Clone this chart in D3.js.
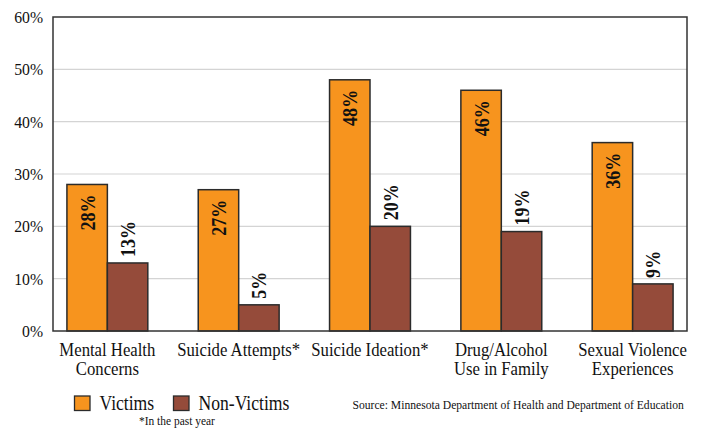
<!DOCTYPE html>
<html>
<head>
<meta charset="utf-8">
<script src="https://cdn.jsdelivr.net/npm/d3@7"></script>
<style>
  html, body { margin: 0; padding: 0; background: #fff; }
  svg { display: block; }
</style>
</head>
<body>
<svg id="chart" width="703" height="430"></svg>
<script>
// Categories (second line of each label after "|")
const categories = [
  "Mental Health|Concerns",
  "Suicide Attempts*",
  "Suicide Ideation*",
  "Drug/Alcohol|Use in Family",
  "Sexual Violence|Experiences"
];
const seriesNames = ["Victims", "Non-Victims"];
const victims    = [28, 27, 48, 46, 36];
const nonVictims = [13, 5, 20, 19, 9];
const yTicks = [0, 10, 20, 30, 40, 50, 60];
const footnote = "*In the past year";
const source = "Source: Minnesota Department of Health and Department of Education";

const colors = { "Victims": "#F7941E", "Non-Victims": "#954B3A" };
const serif = "'Liberation Serif', 'Times New Roman', serif";
const squeeze = 0.88;   // narrow the serif face

const svg = d3.select("#chart");
const plot = { left: 53, right: 687, top: 17, bottom: 331 };

const x = d3.scaleBand().domain(categories).range([plot.left, plot.right])
  .paddingInner(0.384).paddingOuter(0.106);
const xs = d3.scaleBand().domain(seriesNames).range([0, x.bandwidth()]);
const y = d3.scaleLinear().domain([0, 60]).range([plot.bottom, plot.top]);

// condensed text helper
function label(g, str, px, py, opts) {
  const o = Object.assign({ size: 19, anchor: "middle", weight: "normal", sx: squeeze, rot: 0 }, opts);
  return g.append("text")
    .attr("transform", `translate(${px},${py}) rotate(${o.rot}) scale(${o.sx},1)`)
    .attr("text-anchor", o.anchor)
    .attr("font-family", serif)
    .attr("font-size", o.size)
    .attr("font-weight", o.weight)
    .attr("fill", "#111")
    .text(str);
}

// gridlines
svg.append("g").selectAll("line").data(yTicks.filter(t => t > 0 && t < 60)).join("line")
  .attr("x1", plot.left).attr("x2", plot.right)
  .attr("y1", d => y(d)).attr("y2", d => y(d))
  .attr("stroke", "#d4d4d4").attr("stroke-width", 1.2);

// y axis labels
const yg = svg.append("g");
yTicks.forEach(t => label(yg, t + "%", 43, y(t) + 6, { size: 17.5, anchor: "end", sx: 0.9 }));

// bars
const rows = categories.map((c, i) => ({ c, vals: [
  { s: "Victims", v: victims[i] }, { s: "Non-Victims", v: nonVictims[i] }
]}));

const groups = svg.append("g").selectAll("g").data(rows).join("g")
  .attr("transform", d => `translate(${x(d.c)},0)`);

groups.selectAll("rect").data(d => d.vals).join("rect")
  .attr("x", d => xs(d.s))
  .attr("y", d => y(d.v))
  .attr("width", xs.bandwidth())
  .attr("height", d => y(0) - y(d.v))
  .attr("fill", d => colors[d.s])
  .attr("stroke", "#2b2b2b").attr("stroke-width", 1.5);

// value labels, rotated
groups.each(function(d) {
  const g = d3.select(this);
  const vb = d.vals[0], nb = d.vals[1];
  const cxV = xs("Victims") + xs.bandwidth() / 2;
  const cxN = xs("Non-Victims") + xs.bandwidth() / 2;
  label(g, vb.v + "%", cxV + 7.5, y(vb.v) + 10, { size: 21, weight: "bold", anchor: "end", rot: -90, sx: 0.86 });
  label(g, nb.v + "%", cxN + 7.5, y(nb.v) - 6, { size: 21, weight: "bold", anchor: "start", rot: -90, sx: 0.86 });
});

// frame
svg.append("rect").attr("x", plot.left).attr("y", plot.top)
  .attr("width", plot.right - plot.left).attr("height", plot.bottom - plot.top)
  .attr("fill", "none").attr("stroke", "#333").attr("stroke-width", 1.5);

// category labels
const xg = svg.append("g");
categories.forEach(c => {
  const cx = x(c) + x.bandwidth() / 2;
  c.split("|").forEach((line, k) => label(xg, line, cx, 356 + k * 19, { size: 19 }));
});

// legend
const lg = svg.append("g");
const legendPos = [74.5, 173.5];
seriesNames.forEach((s, i) => {
  lg.append("rect").attr("x", legendPos[i]).attr("y", 396)
    .attr("width", 15.5).attr("height", 14.5)
    .attr("fill", colors[s]).attr("stroke", "#2b2b2b").attr("stroke-width", 1.3);
  label(lg, s, legendPos[i] + 25, 410, { size: 20, anchor: "start" });
});
label(lg, footnote, 139, 425, { size: 13, anchor: "start" });
label(lg, source, 352.5, 409, { size: 13.2, anchor: "start" });
</script>
</body>
</html>
